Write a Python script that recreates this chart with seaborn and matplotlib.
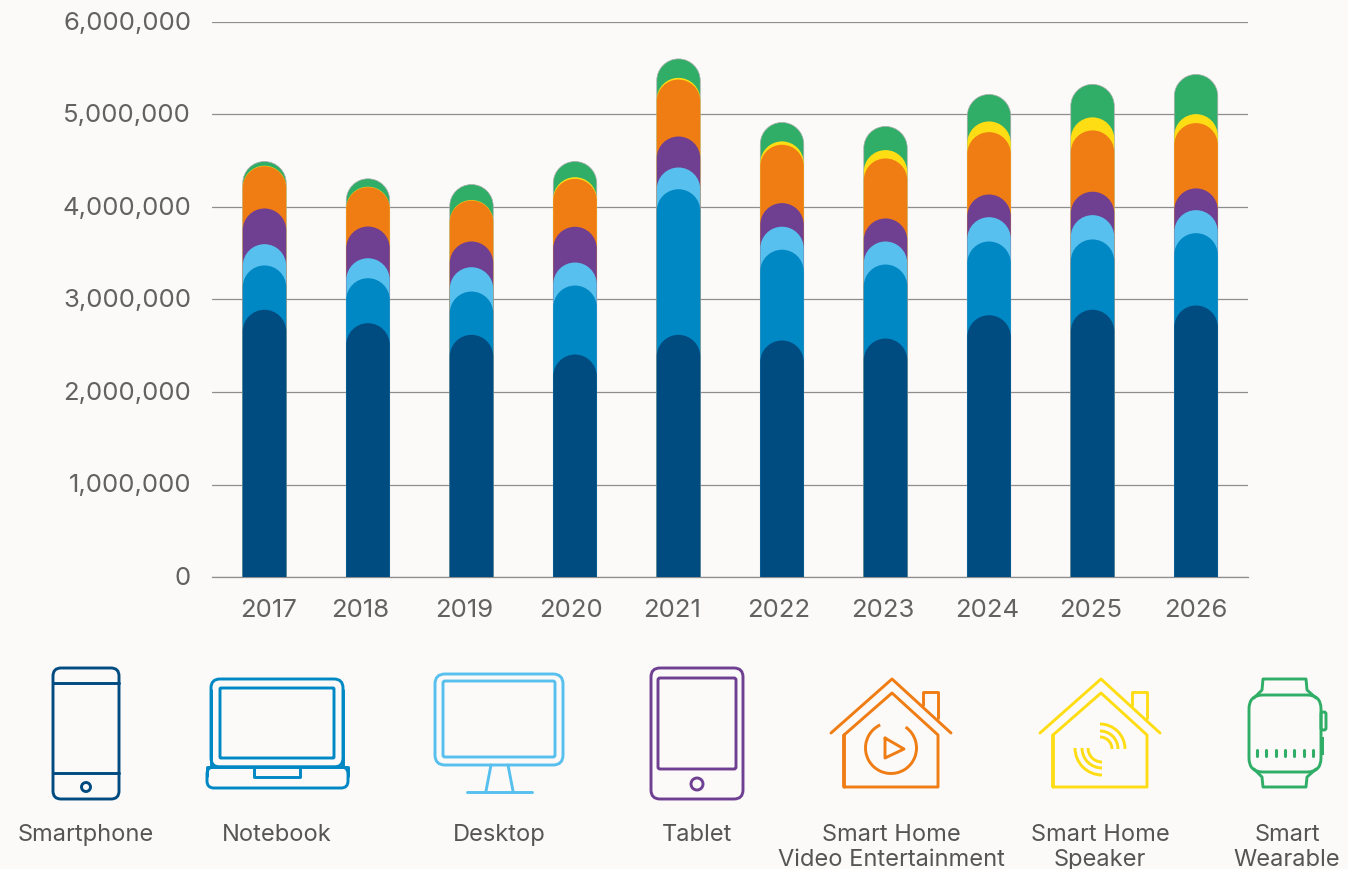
import matplotlib
matplotlib.use('Agg')
import matplotlib.pyplot as plt
import numpy as np
import seaborn as sns
from matplotlib.patches import Circle, FancyBboxPatch, PathPatch, Arc, Rectangle
from matplotlib.path import Path
from matplotlib.ticker import FuncFormatter
from matplotlib.transforms import ScaledTranslation

years = ['2017', '2018', '2019', '2020', '2021', '2022', '2023', '2024', '2025', '2026']

smartphone = [2889000, 2744000, 2618000, 2405000, 2618000, 2557000, 2578000, 2830000, 2889000, 2935000]
notebook = [479000, 486000, 468000, 746000, 1574000, 981000, 800000, 797000, 760000, 782000]
desktop = [230000, 216000, 263000, 249000, 235000, 249000, 249000, 263000, 263000, 249000]
tablet = [386000, 343000, 278000, 386000, 335000, 255000, 249000, 245000, 253000, 235000]
home_video = [457000, 425000, 443000, 519000, 616000, 631000, 649000, 674000, 663000, 706000]
home_speaker = [5000, 5000, 5000, 17000, 18000, 36000, 90000, 116000, 141000, 97000]
wearable = [46000, 86000, 168000, 170000, 205000, 205000, 256000, 292000, 357000, 429000]

series = [smartphone, notebook, desktop, tablet, home_video, home_speaker, wearable]
colors = ['#004B80', '#0088C4', '#58C0EE', '#6F3F92', '#F07C14', '#FFDD15', '#30AE68']
labels = ['Smartphone', 'Notebook', 'Desktop', 'Tablet',
          'Smart Home\nVideo Entertainment', 'Smart Home\nSpeaker', 'Smart\nWearable']
label_x = [86, 277, 499, 697, 891, 1100, 1287]
# the year labels are not quite centred under their bars in the original (pixels)
year_shift = [4.5, -8, -7.7, -4, -6.5, -3.3, -2.8, -2, -1.5, 0]

bg = '#FBFAF8'
font = 'Inter'

sns.set_theme(style='white')
plt.rcParams['font.family'] = [font, 'DejaVu Sans']

fig = plt.figure(figsize=(13.48, 8.7), dpi=100, facecolor=bg)
ax = fig.add_axes([212 / 1348, 1 - 578 / 870, (1248 - 212) / 1348, 555 / 870], facecolor=bg)

# stacked by overdrawing the running totals, tallest first
totals = np.cumsum(series, axis=0)
for tot, col in zip(totals[::-1], colors[::-1]):
    sns.barplot(x=years, y=tot, color=col, saturation=1, width=0.42, ax=ax, zorder=3)

ax.set_xlim(-0.507, 9.502)
ax.set_ylim(0, 6000000)

# swap each bar for the same bar with a round top
px_per_val = 555 / 6000000
px_per_cat = 1036 / (9.502 + 0.507)
bars = list(ax.patches)
for i, bar in enumerate(bars):
    x0, w, h = bar.get_x(), bar.get_width(), bar.get_height()
    rx = w / 2
    ry = rx * px_per_cat / px_per_val
    k = 0.5523
    verts = [(x0, 0), (x0, h - ry),
             (x0, h - ry + k * ry), (x0 + rx - k * rx, h), (x0 + rx, h),
             (x0 + rx + k * rx, h), (x0 + w, h - ry + k * ry), (x0 + w, h - ry),
             (x0 + w, 0), (x0, 0)]
    codes = [Path.MOVETO, Path.LINETO, Path.CURVE4, Path.CURVE4, Path.CURVE4,
             Path.CURVE4, Path.CURVE4, Path.CURVE4, Path.LINETO, Path.CLOSEPOLY]
    # thin grey rim only on the tallest layer, the rest sit inside it
    rim = '#ABABAB' if i < len(years) else 'none'
    ax.add_patch(PathPatch(Path(verts, codes), fc=bar.get_facecolor(), ec=rim, lw=0.5,
                           zorder=bar.get_zorder()))
    bar.remove()

ax.yaxis.set_major_formatter(FuncFormatter(lambda v, p: f'{int(v):,}'))
ax.set_yticks(range(0, 6000001, 1000000))
ax.set_axisbelow(True)
ax.grid(axis='y', color='#8E8E8E', lw=0.9)
ax.tick_params(axis='both', length=0, labelsize=18.5, labelcolor='#626262')
ax.tick_params(axis='x', pad=15.3)
ax.tick_params(axis='y', pad=15)
sns.despine(ax=ax, left=True, right=True, top=True, bottom=False)
ax.spines['bottom'].set_color('#8E8E8E')
ax.spines['bottom'].set_linewidth(0.9)
ax.set_xlabel('')
ax.set_ylabel('')

for lab, dx in zip(ax.get_xticklabels(), year_shift):
    lab.set_transform(lab.get_transform() + ScaledTranslation(dx / 100, 0, fig.dpi_scale_trans))
for lab in ax.get_yticklabels():
    lab.set_transform(lab.get_transform() + ScaledTranslation(0, 2.3 / 100, fig.dpi_scale_trans))

# legend row, pictograms in pixel coordinates
leg = fig.add_axes([0, 0, 1, 1], facecolor='none')
leg.set_xlim(0, 1348)
leg.set_ylim(869, -1)
leg.axis('off')

LW = 2.1


def rbox(x0, y0, x1, y1, r, col, lw=LW):
    leg.add_patch(FancyBboxPatch((x0 + r, y0 + r), x1 - x0 - 2 * r, y1 - y0 - 2 * r,
                                 boxstyle=f'round,pad={r},rounding_size={r}', fc='none', ec=col, lw=lw))


def line(xs, ys, col, lw=LW):
    leg.plot(xs, ys, color=col, lw=lw, solid_capstyle='round', solid_joinstyle='round')


def house(dx, col):
    line([831 + dx, 892 + dx, 951 + dx], [733, 679, 733], col)
    line([844 + dx, 844 + dx, 892 + dx, 938 + dx, 938 + dx, 844 + dx, 844 + dx],
         [787, 735, 693, 735, 787, 787, 735], col)
    line([923 + dx, 923 + dx, 938 + dx, 938 + dx], [705, 692, 692, 718], col)


# smartphone
c = colors[0]
rbox(53, 668, 119, 799, 8, c)
line([53, 119], [683, 683], c)
line([53, 119], [773, 773], c)
leg.add_patch(Circle((86, 787), 4.5, fc='none', ec=c, lw=LW))

# notebook
c = colors[1]
line([211, 211], [767, 690], c)
line([343, 343], [767, 690], c)
rbox(211, 679, 343, 767, 9, c)
rbox(220, 688, 334, 758, 1, c)
rbox(207, 767, 348, 788, 7, c)
line([207, 207, 348, 348], [776, 767, 767, 776], c)
line([254, 254, 300, 300], [767, 777, 777, 767], c)

# desktop
c = colors[2]
rbox(435, 674, 563, 765, 10, c)
rbox(443, 681, 555, 757, 2, c)
line([491, 486], [765, 791], c)
line([508, 513], [765, 791], c)
line([467, 532], [792, 792], c)

# tablet
c = colors[3]
rbox(651, 668, 743, 799, 9, c)
rbox(658, 678, 736, 769, 2, c)
leg.add_patch(Circle((697, 784), 6, fc='none', ec=c, lw=LW))

# smart home video
c = colors[4]
house(0, c)
leg.add_patch(Arc((891, 748), 51, 51, theta1=-55, theta2=245, fc='none', ec=c, lw=LW))
line([885, 904, 885, 885], [738, 749, 758, 738], c)

# smart home speaker
c = colors[5]
house(209, c)
for r in [12, 18, 25]:
    leg.add_patch(Arc((1100, 749), 2 * r, 2 * r, theta1=270, theta2=360, ec=c, lw=LW))
    leg.add_patch(Arc((1102, 748), 2 * r + 4, 2 * r + 4, theta1=90, theta2=180, ec=c, lw=LW))

# wearable
c = colors[6]
rbox(1249, 695, 1321, 772, 14, c)
line([1254, 1262, 1263, 1306, 1307, 1316], [698, 690, 679, 679, 690, 698], c)
line([1254, 1262, 1263, 1306, 1307, 1316], [769, 777, 787, 787, 777, 769], c)
rbox(1321, 712, 1326, 730, 2, c)
leg.add_patch(Rectangle((1321, 737), 3, 18, fc=c, ec='none'))
for tx in [1257, 1266.3, 1275.7, 1285, 1294.3, 1303.7, 1313]:
    line([tx, tx], [750, 756], c, lw=2.2)

for x, lab in zip(label_x, labels):
    leg.text(x, 823, lab, ha='center', va='top', fontsize=17, color='#555555', linespacing=1.15)

fig.savefig('out.png', dpi=100, facecolor=bg)
